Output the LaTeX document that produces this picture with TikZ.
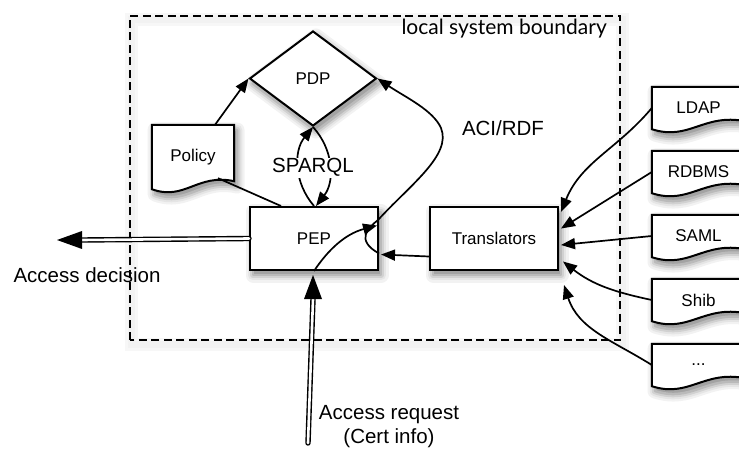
\documentclass[tikz,border=0pt]{standalone}
\usepackage{fontspec}
\setmainfont{Liberation Sans}
\newfontfamily\boundfont{Lato}
\usetikzlibrary{shapes.geometric,arrows.meta,calc}

\pgfdeclarelayer{frame}
\pgfdeclarelayer{paper}
\pgfsetlayers{frame,paper,main}

\begin{document}
\begin{tikzpicture}[x=1pt,y=1pt,
  every node/.style={font=\fontsize{17}{20}\selectfont},
  lbl/.style={font=\fontsize{20.5}{24}\selectfont, inner sep=0pt},
  conn/.style={line width=1.7pt, -{Triangle[length=14pt,width=11pt]}},
  plainline/.style={line width=1.7pt},
  boxnode/.style={draw, line width=2pt, fill=white,
      minimum width=128pt, minimum height=63pt, inner sep=0pt},
  decision/.style={diamond, draw, line width=2pt, fill=white,
      minimum width=127pt, minimum height=95pt, inner sep=0pt},
  docarea/.style={inner sep=0pt, minimum width=93pt, minimum height=42pt},
  docline/.style={draw, line width=2pt, fill=white, line join=miter},
  frameline/.style={draw, line width=1.6pt, dash pattern=on 8pt off 4.5pt},
  shaft/.style={double=white, double distance=2.6pt, line width=1.4pt, line cap=round},
  % outline of a document shape around node #1, moved by the offset #2
  docshape/.style 2 args={insert path={
      ($(#1.south west)+(#2)$) -- ($(#1.north west)+(#2)$) -- ($(#1.north east)+(#2)$)
      -- ($(#1.south east)+(#2)+(0,8)$)
      .. controls ($(#1.south west)!0.55!(#1.south east)+(#2)+(0,16)$)
      and ($(#1.south west)!0.4!(#1.south east)+(#2)+(0,-12)$) .. ($(#1.south west)+(#2)$)
      -- cycle}},
  boxshape/.style 2 args={insert path={
      ($(#1.south west)+(#2)$) rectangle ($(#1.north east)+(#2)$)}}
]
\useasboundingbox (0,0) rectangle (739,-449);
\clip (0,0) rectangle (739,-449);

% boxes
\node[boxnode] (pep) at (314,-238.5) {PEP};
\node[boxnode] (trans) at (494,-238.5) {Translators};
\node[decision] (pdp) at (313,-78.5) {PDP};

% document-shaped sources
\node[docarea, minimum width=82pt, minimum height=64pt] (policy) at (193,-157) {Policy};
\node[docarea] (ldap)  at (698.5,-108) {LDAP};
\node[docarea] (rdbms) at (698.5,-172) {RDBMS};
\node[docarea] (saml)  at (698.5,-236) {SAML};
\node[docarea] (shib)  at (698.5,-300) {Shib};
\node[docarea] (dots)  at (698.5,-365) {...};

\begin{pgfonlayer}{frame}
  % dashed boundary with a faint halo
  \node[inner sep=0pt, minimum width=490pt, minimum height=324pt] (boundary) at (375,-178) {};
  \path[draw=black!3, line width=13pt] [boxshape={boundary}{2,-4}];
  \path[draw=black!5, line width=7pt] [boxshape={boundary}{2,-4}];
  \path[frameline] [boxshape={boundary}{0,0}];
  % soft drop shadows: grey outlines, widest and palest first, moved by (3,-5)
  \foreach \c/\lw/\f in {5/15pt/none, 10/10.5pt/none, 18/6.5pt/none, 27/2.5pt/black!36}{
    \foreach \x/\t/\w/\h in {250/207/128/63, 430/207/128/63}{
      \path[draw=black!\c, line width=\lw, fill=\f, line join=round]
        ({\x+3},{-\t-5}) rectangle ({\x+\w+3},{-\t-\h-5});
    }
    \path[draw=black!\c, line width=\lw, fill=\f, line join=round]
      (316,-36) -- (379.5,-83.5) -- (316,-131) -- (252.5,-83.5) -- cycle;
    \foreach \x/\t/\w/\h in {152/125/82/64, 652/87/93/42, 652/151/93/42,
                             652/215/93/42, 652/279/93/42, 652/344/93/42}{
      \path[draw=black!\c, line width=\lw, fill=\f, line join=round]
        ({\x+3},{-\t-\h-5}) -- ({\x+3},{-\t-5}) -- ({\x+\w+3},{-\t-5})
        -- ({\x+\w+3},{-\t-\h+3})
        .. controls ({\x+0.55*\w+3},{-\t-\h+11}) and ({\x+0.4*\w+3},{-\t-\h-17})
        .. ({\x+3},{-\t-\h-5}) -- cycle;
    }
  }
\end{pgfonlayer}

\begin{pgfonlayer}{paper}
  \foreach \d in {policy,ldap,rdbms,saml,shib,dots}{
    \path[docline] [docshape={\d}{0,0}];
  }
\end{pgfonlayer}

\node[anchor=base east, inner sep=0pt, font=\boundfont\fontsize{21}{24}\selectfont]
  (boundlabel) at (607,-35) {local system boundary};

% policy links
\draw[conn] ($(policy.north)+(22,0)$) -- (pdp.west);
\draw[plainline] ($(policy.south)+(25,11)$) -- ($(pep.north west)+(32,0)$);

% SPARQL exchange
\draw[conn] (pep.north) to[bend left=40] (pdp.south);
\draw[conn] (pdp.south) to[bend left=40] ($(pep.north)+(2,0)$);
\node[lbl, fill=white, inner sep=1pt, anchor=base] (sparql) at (313,-173) {SPARQL};

% ACI/RDF to the PDP
\draw[conn] ($(pep.east)+(0,-15)$) .. controls (355,-240) and (368,-228) .. (378,-220)
  .. controls (410,-185) and (452,-155) .. (441,-128)
  .. controls (433,-110) and (405,-97) .. (pdp.east);
\node[lbl, anchor=base] (aci) at (503,-136) {ACI/RDF};

% translators
\draw[conn] ($(trans.west)+(0,-18)$) -- ($(pep.east)+(2,-16)$);
\draw[conn] (ldap.west) to[out=-130, in=68] ($(trans.north east)+(2,-6)$);
\draw[conn] (rdbms.west) -- ($(trans.east)+(2,10)$);
\draw[conn] (saml.west) -- ($(trans.east)+(2,-6.5)$);
\draw[conn] (shib.west) to[out=168, in=-38] ($(trans.east)+(4,-23)$);
\draw[conn] (dots.west) to[out=148, in=-72] ($(trans.south east)+(5,-14)$);

% access decision (out of the PEP)
\coordinate (dectip) at (57,-240);
\coordinate (decbase) at (82,-240);
\draw[shaft] (pep.west) -- (decbase);
\fill (dectip) -- ($(decbase)+(0,9)$) -- ($(decbase)+(0,-9)$) -- cycle;
\node[lbl, anchor=base] (decision) at (87,-283) {Access decision};

% access request (into the PEP)
\coordinate (reqfoot) at (308,-443);
\coordinate (reqtip) at ($(pep.south)+(-1,-4)$);
\coordinate (reqbase) at ($(reqtip)+(0,-24)$);
\draw[shaft] (reqfoot) -- (reqbase);
\fill (reqtip) -- ($(reqbase)+(-9,0)$) -- ($(reqbase)+(9,0)$) -- cycle;
\draw[conn] (pep.south) .. controls (328,-250) and (345,-234) .. ($(pep.east)+(-2,13)$);
\node[lbl, align=center, anchor=north] (request) at (389,-405) {Access request\\(Cert info)};

\end{tikzpicture}
\end{document}
